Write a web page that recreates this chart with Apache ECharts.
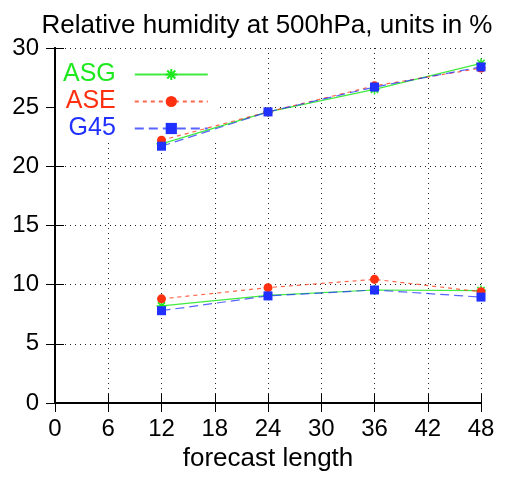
<!DOCTYPE html>
<html>
<head>
<meta charset="utf-8">
<script src="https://cdn.jsdelivr.net/npm/echarts@6/dist/echarts.min.js"></script>
<style>
html,body{margin:0;padding:0;background:#fff;}
#chart{width:509px;height:483px;}
</style>
</head>
<body>
<div id="chart"></div>
<script>
// ---- data ----
const titleText = 'Relative humidity at 500hPa, units in %';
const xName = 'forecast length';
const seriesNames = ['ASG', 'ASE', 'G45'];
const steps = [12, 24, 36, 48];
const asgUpper = [21.9, 24.6, 26.5, 28.7];
const aseUpper = [22.2, 24.6, 26.8, 28.3];
const g45Upper = [21.7, 24.6, 26.7, 28.4];
const asgLower = [8.2, 9.1, 9.55, 9.5];
const aseLower = [8.8, 9.75, 10.45, 9.4];
const g45Lower = [7.8, 9.05, 9.55, 8.95];

const colors = { ASG: '#1ee81e', ASE: '#ff3010', G45: '#2030ff' };
const FONT = '"Liberation Sans", Arial, sans-serif';

function pairs(vals) { return steps.map((s, i) => [s, vals[i]]); }

const starPath = 'path://M0,-5L0,5M-5,0L5,0M-3.6,-3.6L3.6,3.6M-3.6,3.6L3.6,-3.6';

function mk(name, vals) {
  const c = colors[name];
  const base = {
    name: name,
    type: 'line',
    data: pairs(vals),
    z: 3,
    animation: false
  };
  if (name === 'ASG') {
    base.symbol = starPath;
    base.symbolSize = 10;
    base.itemStyle = { color: 'rgba(0,0,0,0)', borderColor: c, borderWidth: 1.5 };
    base.lineStyle = { color: c, width: 1.2, type: 'solid', opacity: 0.85 };
  } else if (name === 'ASE') {
    base.symbol = 'circle';
    base.symbolSize = 9;
    base.itemStyle = { color: c, borderWidth: 0 };
    base.lineStyle = { color: c, width: 1.2, type: [4, 4], opacity: 0.75 };
  } else {
    base.symbol = 'rect';
    base.symbolSize = 9;
    base.itemStyle = { color: c, borderWidth: 0 };
    base.lineStyle = { color: c, width: 1.2, type: [9, 5], opacity: 0.75 };
  }
  return base;
}

const chart = echarts.init(document.getElementById('chart'), null, { renderer: 'canvas' });
const gridLine = { show: true, lineStyle: { color: '#222', type: [1, 4], width: 1 } };
const option = {
  backgroundColor: '#fff',
  animation: false,
  textStyle: { fontFamily: FONT },
  title: {
    text: titleText,
    left: 262, top: 8, textAlign: 'center',
    textStyle: { fontFamily: FONT, fontSize: 26, fontWeight: 'normal', color: '#000' }
  },
  legend: {
    orient: 'vertical',
    align: 'right',
    left: 56, top: 49,
    padding: [12, 10, 0, 7],
    itemGap: 0,
    itemWidth: 73,
    itemHeight: 14,
    backgroundColor: '#fff',
    z: 1,
    selectedMode: false,
    data: seriesNames.map(n => ({ name: n, textStyle: { color: colors[n] } })),
    textStyle: { fontFamily: FONT, fontSize: 25, lineHeight: 27, padding: [0, 14, 0, 0] }
  },
  grid: { left: 55, right: 28, top: 48, bottom: 80, show: false },
  xAxis: [{
    type: 'value', min: 0, max: 48, interval: 6,
    name: xName, nameLocation: 'middle', nameGap: 39,
    nameTextStyle: { fontFamily: FONT, fontSize: 26, color: '#000' },
    axisLine: { show: true, lineStyle: { color: '#000', width: 2 } },
    axisTick: { show: true, inside: true, length: 9, lineStyle: { color: '#000', width: 1 } },
    axisLabel: { fontFamily: FONT, fontSize: 24, color: '#000', margin: 14 },
    splitLine: gridLine
  }, {
    type: 'value', min: 0, max: 48, interval: 6, position: 'top',
    axisLine: { show: true, lineStyle: { color: '#000', width: 2 } },
    axisTick: { show: true, inside: true, length: 9, lineStyle: { color: '#000', width: 1 } },
    axisLabel: { show: false }, splitLine: { show: false }
  }],
  yAxis: [{
    type: 'value', min: 0, max: 30, interval: 5,
    axisLine: { show: true, lineStyle: { color: '#000', width: 2 } },
    axisTick: { show: true, inside: true, length: 9, lineStyle: { color: '#000', width: 1 } },
    axisLabel: { fontFamily: FONT, fontSize: 24, color: '#000', margin: 16 },
    splitLine: gridLine
  }, {
    type: 'value', min: 0, max: 30, interval: 5, position: 'right',
    axisLine: { show: true, lineStyle: { color: '#000', width: 2 } },
    axisTick: { show: true, inside: true, length: 9, lineStyle: { color: '#000', width: 1 } },
    axisLabel: { show: false }, splitLine: { show: false }
  }],
  series: [
    mk('ASG', asgUpper), mk('ASE', aseUpper), mk('G45', g45Upper),
    mk('ASG', asgLower), mk('ASE', aseLower), mk('G45', g45Lower)
  ]
};
chart.setOption(option);
</script>
</body>
</html>
